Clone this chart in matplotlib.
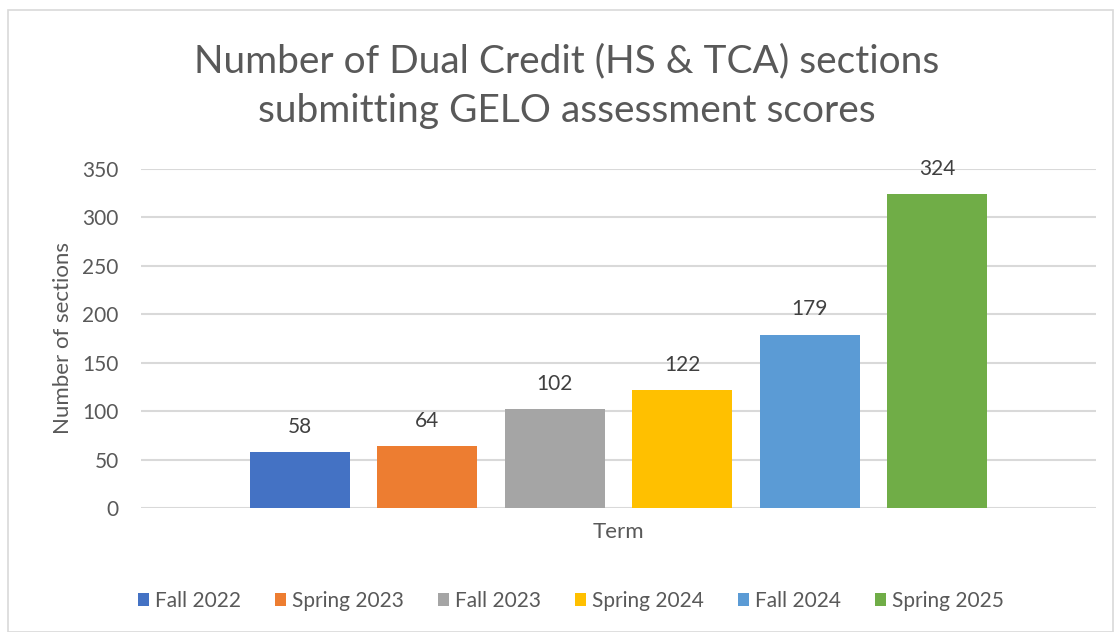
import matplotlib
matplotlib.use("Agg")
import matplotlib.pyplot as plt
from matplotlib.patches import Rectangle

terms = ["Fall 2022", "Spring 2023", "Fall 2023", "Spring 2024", "Fall 2024", "Spring 2025"]
sections = [58, 64, 102, 122, 179, 324]
colors = ["#4472C4", "#ED7D31", "#A5A5A5", "#FFC000", "#5B9BD5", "#70AD47"]
yticks = [0, 50, 100, 150, 200, 250, 300, 350]

plt.rcParams['font.family'] = ['Lato', 'DejaVu Sans']
txt = "#595959"

W, H = 1115, 632
fig = plt.figure(figsize=(W / 100, H / 100), dpi=100)
fig.patches.append(Rectangle((8 / W, 0), (W - 10) / W, (H - 10) / H, transform=fig.transFigure,
                             fill=False, edgecolor="#D9D9D9", linewidth=1.2))

ax = fig.add_axes([141 / W, (H - 508) / H, (1096 - 141) / W, (508 - 169) / H])
ax.set_xlim(-0.5, 0.5)
ax.set_ylim(0, 350)

bw = 100 / 955
step = 127.4 / 955
start = -0.5 + 109 / 955 + bw / 2
handles = []
for i, (t, v, c) in enumerate(zip(terms, sections, colors)):
    x = start + i * step
    b = ax.bar(x, v, width=bw, color=c, label=t, zorder=3)
    handles.append(b)
    ax.annotate(str(v), (x, v), xytext=(0, 11), textcoords="offset points",
                ha="center", va="bottom", fontsize=15, color="#404040")

ax.set_yticks(yticks)
ax.set_yticklabels([str(t) for t in yticks], fontsize=15, color=txt)
ax.tick_params(axis="y", length=0, pad=16)
ax.set_xticks([])
ax.grid(axis="y", color="#D9D9D9", linewidth=1.5, zorder=0)
for s in ax.spines.values():
    s.set_visible(False)
ax.set_ylabel("Number of sections", fontsize=16, color=txt, labelpad=7)
ax.set_xlabel("Term", fontsize=16, color=txt, labelpad=10)

fig.text(567 / W, 1 - 86 / H, "Number of Dual Credit (HS & TCA) sections\nsubmitting GELO assessment scores",
         ha="center", va="center", fontsize=28, color=txt, linespacing=1.45)

fig.legend(handles=handles, labels=terms, loc="center", bbox_to_anchor=(571 / W, 1 - 601 / H),
           ncol=6, frameon=False, fontsize=15, labelcolor=txt,
           handlelength=0.55, handleheight=0.55, handletextpad=0.3, columnspacing=1.6)

fig.savefig("out.png", dpi=100)
